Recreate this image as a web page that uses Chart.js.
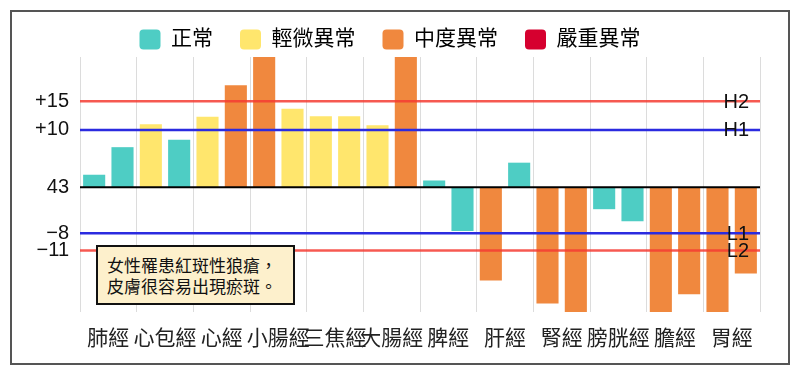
<!DOCTYPE html>
<html lang="zh-Hant">
<head>
    <meta charset="UTF-8">
    <title>經絡檢測</title>
    <script src="https://cdn.jsdelivr.net/npm/chart.js"></script>
    <style>
        body { margin: 0; background: #fff; }
        #box {
            position: absolute; left: 10px; top: 10px;
            width: 776px; height: 351px;
            border: 2px solid #555;
        }
        #note {
            position: absolute; left: 84px; top: 233px;
            width: 186px; height: 49px;
            padding: 7px 0 0 9px;
            background: #fdf0cc;
            border: 2px solid #111;
            font: 17px/21px "Noto Sans CJK TC", sans-serif;
            color: #111;
        }
    </style>
</head>
<body>
<div id="box">
  <canvas id="MeridianChart" width="776" height="351"></canvas>
  <div id="note">女性罹患紅斑性狼瘡，<br>皮膚很容易出現瘀斑。</div>
</div>
<script>
// meridians, left and right side readings (difference from baseline 43)
const categories = ['肺經', '心包經', '心經', '小腸經', '三焦經', '大腸經', '脾經', '肝經', '腎經', '膀胱經', '膽經', '胃經'];
const leftValues  = [2.2, 11.0, 12.3, 25, 12.4, 10.8, 1.2, -16.2, -20.2, -3.8, -25, -25];
const rightValues = [7.0, 8.3, 17.8, 13.7, 12.4, 25, -7.6, 4.3, -25, -5.9, -18.6, -15.0];

// y axis ticks
const tickValues = [15, 10, 0, -8, -11];
const tickLabels = ['+15', '+10', '43', '\u22128', '\u221211'];

// reference lines
const refValues = [15, 10, -8, -11];
const refNames  = ['H2', 'H1', 'L1', 'L2'];
const refColors = ['rgba(245,60,50,0.85)', '#2b2be0', '#2b2be0', 'rgba(245,60,50,0.85)'];

// status legend
const statusNames  = ['正常', '輕微異常', '中度異常', '嚴重異常'];
const statusColors = ['#4ecdc4', '#ffe66d', '#f0883e', '#d6002f'];

const FONT = '"Liberation Sans", "Noto Sans CJK TC", sans-serif';

function statusColor(v) {
    if (v > 15 || v < -11) return statusColors[2];
    if (v > 10 || v < -8) return statusColors[1];
    return statusColors[0];
}

// legend sits high, chart area starts right below it
const legendPlacePlugin = {
    id: 'legendPlace',
    beforeInit(chart) {
        const legend = chart.legend;
        const fit = legend.fit;
        legend.fit = function() {
            fit.call(this);
            this.height = 55;
        };
    },
    afterLayout(chart) {
        chart.legend.left += 4;
        chart.legend.right += 4;
    }
};

const refLinesPlugin = {
    id: 'refLines',
    afterDatasetsDraw(chart) {
        const ctx = chart.ctx;
        const area = chart.chartArea;
        const y = chart.scales.y;
        ctx.save();
        // zero line
        ctx.strokeStyle = '#000';
        ctx.lineWidth = 2;
        ctx.beginPath();
        ctx.moveTo(area.left, y.getPixelForValue(0));
        ctx.lineTo(area.right, y.getPixelForValue(0));
        ctx.stroke();
        ctx.font = '20px ' + FONT;
        ctx.textAlign = 'right';
        ctx.textBaseline = 'middle';
        refValues.forEach((v, i) => {
            const py = y.getPixelForValue(v);
            ctx.strokeStyle = refColors[i];
            ctx.lineWidth = 2.5;
            ctx.beginPath();
            ctx.moveTo(area.left, py);
            ctx.lineTo(area.right, py);
            ctx.stroke();
            ctx.fillStyle = '#111';
            ctx.fillText(refNames[i], area.right - 11, py + 1);
        });
        ctx.restore();
    }
};

const ctx = document.getElementById('MeridianChart').getContext('2d');
new Chart(ctx, {
    type: 'bar',
    data: {
        labels: categories,
        datasets: [{
            label: '左',
            data: leftValues,
            backgroundColor: leftValues.map(statusColor)
        }, {
            label: '右',
            data: rightValues,
            backgroundColor: rightValues.map(statusColor)
        }]
    },
    options: {
        responsive: false,
        animation: false,
        categoryPercentage: 1.0,
        barPercentage: 0.78,
        layout: { padding: { top: -10, left: 0, right: 28, bottom: 0 } },
        plugins: {
            tooltip: { enabled: false },
            legend: {
                position: 'top',
                labels: {
                    font: { size: 21, family: FONT },
                    color: '#222',
                    boxWidth: 21,
                    boxHeight: 20,
                    padding: 27,
                    useBorderRadius: true,
                    borderRadius: 4,
                    generateLabels: () => statusNames.map((name, i) => ({
                        text: name,
                        fillStyle: statusColors[i],
                        strokeStyle: statusColors[i],
                        lineWidth: 0,
                        borderRadius: 4,
                        hidden: false
                    }))
                }
            }
        },
        scales: {
            x: {
                grid: { color: '#dcdcdc', drawTicks: false },
                border: { display: false },
                ticks: {
                    font: { size: 21, family: FONT },
                    color: '#222',
                    autoSkip: false,
                    maxRotation: 0,
                    padding: 15
                },
                afterFit: (scale) => {
                    scale.height = 51;
                    scale.paddingLeft = 0;
                    scale.paddingRight = 0;
                }
            },
            y: {
                min: -21.7,
                max: 22.7,
                grid: { display: false, drawTicks: false },
                border: { display: false },
                afterBuildTicks: (scale) => {
                    scale.ticks = tickValues.map(v => ({ value: v }));
                },
                ticks: {
                    font: { size: 20, family: FONT },
                    color: '#111',
                    padding: 11,
                    callback: (value) => tickLabels[tickValues.indexOf(value)]
                },
                afterFit: (scale) => {
                    scale.width = 68;
                    scale.paddingTop = 0;
                    scale.paddingBottom = 0;
                }
            }
        }
    },
    plugins: [legendPlacePlugin, refLinesPlugin]
});
</script>
</body>
</html>
